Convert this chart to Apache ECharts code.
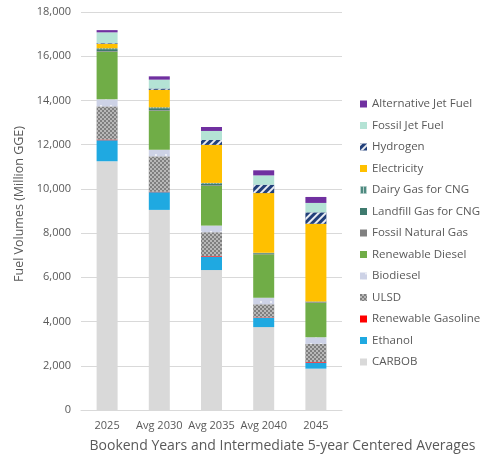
<!DOCTYPE html>
<html>
<head>
    <meta charset="utf-8">
    <title>Fuel Volumes</title>
    <style>
        html, body { margin: 0; padding: 0; background: #fff; }
        #charts { width: 481px; height: 455px; }
    </style>
</head>
<body>
    <div id="charts"></div>
<script src="https://cdn.jsdelivr.net/npm/echarts@6/dist/echarts.min.js"></script>
<script type="text/javascript">
var categories = ['2025', 'Avg 2030', 'Avg 2035', 'Avg 2040', '2045'];

// million GGE, bottom of stack first
var carbob        = [11250, 9050, 6330, 3750, 1870];
var ethanol       = [950, 800, 600, 420, 270];
var renewGasoline = [30, 20, 30, 20, 30];
var ulsd          = [1500, 1600, 1080, 590, 820];
var biodiesel     = [320, 300, 300, 300, 300];
var renewDiesel   = [2150, 1760, 1790, 1960, 1560];
var fossilNG      = [30, 30, 30, 30, 30];
var landfillGas   = [90, 90, 80, 30, 20];
var dairyGas      = [40, 40, 30, 10, 10];
var electricity   = [200, 790, 1720, 2700, 3510];
var hydrogen      = [30, 60, 220, 380, 520];
var fossilJet     = [490, 400, 410, 420, 425];
var altJet        = [100, 150, 180, 230, 270];

var yTicks = [0, 2000, 4000, 6000, 8000, 10000, 12000, 14000, 16000, 18000];

var font = '"Open Sans", "Noto Sans", sans-serif';
var grey = '#595959';

function bar(name, data, color, decal) {
    var s = {
        name: name,
        type: 'bar',
        stack: 'fuel',
        barWidth: 21,
        data: data,
        itemStyle: { color: color }
    };
    if (decal) s.itemStyle.decal = decal;
    return s;
}

var series = [
    bar('CARBOB', carbob, '#D9D9D9'),
    bar('Ethanol', ethanol, '#1FA9E1'),
    bar('Renewable Gasoline', renewGasoline, '#FF0000'),
    bar('ULSD', ulsd, '#7F7F7F', {   // checker-ish dots
        symbol: 'rect', symbolSize: 1, color: 'rgba(255,255,255,0.45)',
        dashArrayX: [[1.5, 1.5], [0, 1.5, 1.5, 0]], dashArrayY: [1.5, 0]
    }),
    bar('Biodiesel', biodiesel, '#CDD2E6', {
        symbol: 'circle', symbolSize: 0.9, color: 'rgba(255,255,255,0.9)',
        dashArrayX: [[2, 8], [0, 5, 2, 3]], dashArrayY: [2, 5]
    }),
    bar('Renewable Diesel', renewDiesel, '#70AD47'),
    bar('Fossil Natural Gas', fossilNG, '#808080'),
    bar('Landfill Gas for CNG', landfillGas, '#3E7A6E'),
    bar('Dairy Gas for CNG', dairyGas, '#4E8A80', {
        symbol: 'rect', color: 'rgba(255,255,255,0.6)',
        dashArrayX: [1, 2], dashArrayY: [1, 0]
    }),
    bar('Electricity', electricity, '#FFC000'),
    bar('Hydrogen', hydrogen, '#22407A', {
        symbol: 'rect', color: 'rgba(255,255,255,0.9)',
        dashArrayX: [1, 0], dashArrayY: [2, 3], rotation: -Math.PI / 4
    }),
    bar('Fossil Jet Fuel', fossilJet, '#B4E3D5'),
    bar('Alternative Jet Fuel', altJet, '#7030A0')
];

var legendOrder = series.map(function (s) { return s.name; }).reverse();

var myChart = echarts.init(document.getElementById('charts'));

var option = {
    animation: false,
    textStyle: { fontFamily: font },
    grid: { left: 81, right: 139, top: 12, bottom: 45, outerBoundsMode: 'none' },
    legend: {
        data: legendOrder,
        orient: 'vertical',
        left: 355,
        top: 92,
        itemWidth: 7,
        itemHeight: 7,
        itemGap: 7.5,
        icon: 'rect',
        textStyle: { fontFamily: font, fontSize: 11.5, color: grey, lineHeight: 14 }
    },
    xAxis: {
        type: 'category',
        data: categories,
        axisTick: { show: false },
        axisLine: { lineStyle: { color: '#D9D9D9' } },
        axisLabel: { fontSize: 11, color: grey, margin: 10, interval: 0 },
        name: 'Bookend Years and Intermediate 5-year Centered Averages',
        nameLocation: 'middle',
        nameGap: 29,
        nameTextStyle: { fontSize: 14, color: grey, padding: [0, 0, 0, 142] }
    },
    yAxis: {
        type: 'value',
        min: yTicks[0],
        max: yTicks[yTicks.length - 1],
        interval: 2000,
        axisLine: { show: false },
        axisTick: { show: false },
        splitLine: { lineStyle: { color: '#D9D9D9' } },
        axisLabel: {
            fontSize: 11, color: grey, margin: 10,
            formatter: function (v) { return v.toLocaleString('en-US'); }
        },
        name: 'Fuel Volumes (Million GGE)',
        nameLocation: 'middle',
        nameGap: 53,
        nameTextStyle: { fontSize: 12.5, color: grey, padding: [0, 0, 0, 14] }
    },
    series: series
};

myChart.setOption(option);
</script>
</body>
</html>
